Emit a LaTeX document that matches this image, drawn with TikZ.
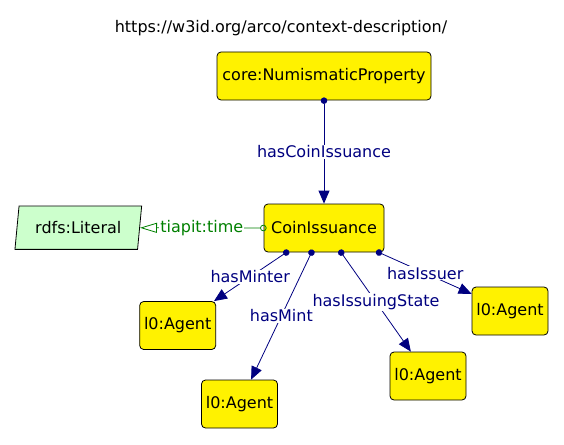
\documentclass[tikz,border=0pt]{standalone}
\usepackage{fontspec}
\setmainfont{DejaVu Sans}
\usetikzlibrary{arrows.meta,shapes.geometric}
\definecolor{navyblue}{RGB}{0,0,128}
\definecolor{dgreen}{RGB}{0,128,0}
\definecolor{litgreen}{RGB}{204,255,204}

\begin{document}
\begin{tikzpicture}[x=1pt,y=-1pt,font=\fontsize{16}{19}\selectfont,
  cls/.style={draw=black,line width=0.8pt,fill=yellow,rounded corners=4pt,minimum height=48pt,inner sep=0pt},
  lit/.style={draw=black,line width=0.8pt,fill=litgreen,trapezium,trapezium left angle=71.7,trapezium right angle=108.3,
    trapezium stretches body,minimum width=126.7pt,minimum height=43.3pt,inner sep=0pt},
  prop/.style={draw=navyblue,line width=0.8pt,{Circle[length=6.5pt]}-{Triangle[length=13pt,width=11pt]},shorten <=-3pt},
  dprop/.style={draw=dgreen,line width=0.8pt,{Circle[open,length=6.5pt]}-{Triangle[open,length=17pt,width=10pt]},shorten <=-3pt},
  plabel/.style={fill=white,text=navyblue,inner sep=1pt},
  dlabel/.style={fill=white,text=dgreen,inner sep=1pt}]
  \useasboundingbox (0,0) rectangle (564,444);

  \node (title) at (281,28) {https://w3id.org/arco/context-description/};
  \node[cls,minimum width=214pt] (np) at (324,76) {core:NumismaticProperty};
  \node[cls,minimum width=120pt] (ci) at (324,228) {CoinIssuance};
  \node[lit] (literal) at (78.3,227.7) {rdfs:Literal};
  \node[cls,minimum width=76pt] (ag1) at (177.7,325.5) {l0:Agent};
  \node[cls,minimum width=76pt] (ag2) at (239.5,404) {l0:Agent};
  \node[cls,minimum width=76pt] (ag3) at (428,376) {l0:Agent};
  \node[cls,minimum width=76pt] (ag4) at (510,311) {l0:Agent};

  \draw[prop] (np.south) -- node[plabel] {hasCoinIssuance} (ci.north);
  \draw[dprop] (ci.west) -- node[dlabel] {tiapit:time} (literal);
  \draw[prop] (ci.213) -- node[plabel] {hasMinter} (ag1);
  \draw[prop] (ci.243.4) -- node[plabel] {hasMint} (ag2);
  \draw[prop] (ci.305.3) -- node[plabel] {hasIssuingState} (ag3);
  \draw[prop] (ci.336.4) -- node[plabel] {hasIssuer} (ag4);
\end{tikzpicture}
\end{document}
